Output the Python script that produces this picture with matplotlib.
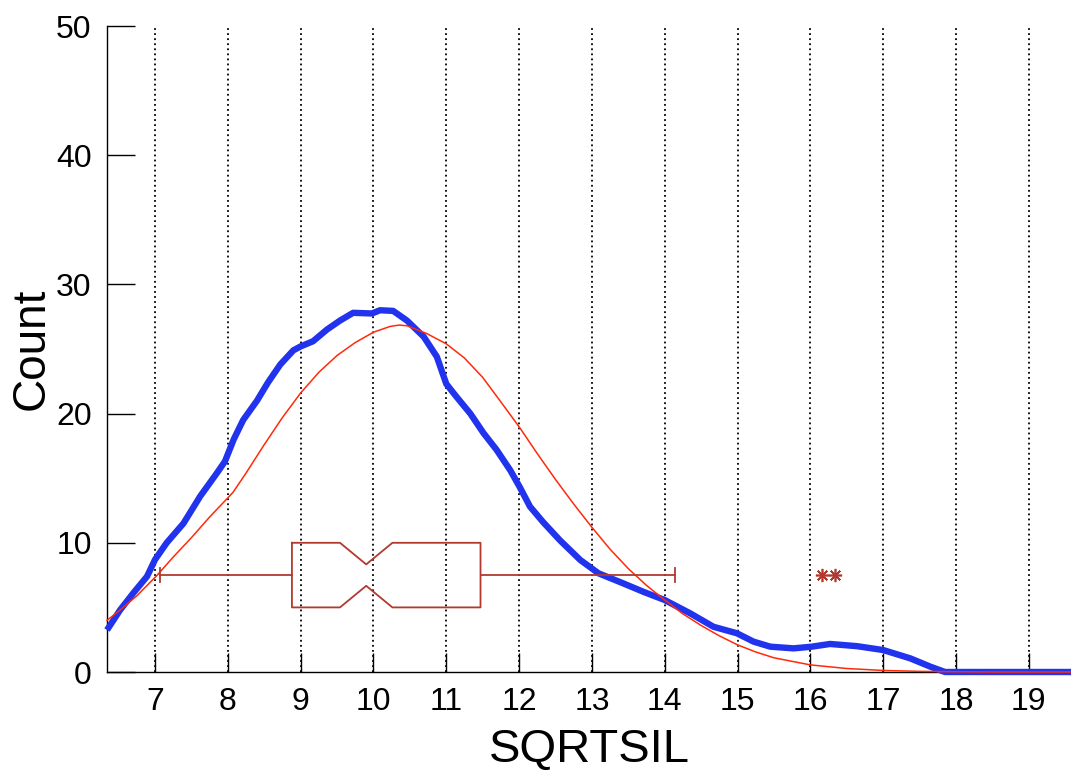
import numpy as np
import matplotlib
matplotlib.use('Agg')
import matplotlib.pyplot as plt

plt.rcParams['font.family'] = ['Liberation Sans', 'DejaVu Sans']

# density estimate (blue)
kde_x = [6.34, 6.52, 6.70, 6.89, 7.0, 7.16, 7.39, 7.62, 7.85, 7.96, 8.08, 8.21, 8.40, 8.55,
         8.72, 8.90, 9.0, 9.17, 9.36, 9.54, 9.72, 9.98, 10.09, 10.27, 10.46, 10.69, 10.87,
         11.0, 11.14, 11.33, 11.51, 11.69, 11.88, 12.01, 12.15, 12.33, 12.56, 12.84, 13.09,
         13.43, 13.71, 14.0, 14.35, 14.67, 14.99, 15.22, 15.45, 15.77, 16.02, 16.27, 16.64,
         17.0, 17.37, 17.65, 17.85, 19.58]
kde_y = [3.25, 4.8, 6.1, 7.4, 8.7, 10.0, 11.5, 13.6, 15.4, 16.3, 18.0, 19.5, 21.0, 22.4,
         23.8, 24.9, 25.2, 25.6, 26.5, 27.2, 27.8, 27.75, 28.0, 27.95, 27.2, 25.95, 24.4,
         22.3, 21.3, 20.0, 18.5, 17.2, 15.6, 14.3, 12.8, 11.6, 10.2, 8.67, 7.64,
         6.86, 6.2, 5.57, 4.54, 3.5, 3.0, 2.35, 1.96, 1.83, 1.96, 2.17, 2.0,
         1.7, 1.06, 0.41, 0.0, 0.0]

# normal fit (red)
fit_x = [6.34, 6.5, 6.75, 7.03, 7.25, 7.5, 7.75, 8.07, 8.25, 8.5, 8.75, 9.0, 9.25, 9.5,
         9.75, 10.0, 10.23, 10.35, 10.46, 10.73, 11.0, 11.25, 11.5, 11.75, 12.01, 12.25,
         12.5, 12.75, 13.0, 13.25, 13.5, 13.75, 14.0, 14.25, 14.5, 14.75, 15.0, 15.25,
         15.5, 16.0, 16.5, 17.0, 17.5, 18.0, 18.5, 19.58]
fit_y = [4.0, 4.7, 5.9, 7.5, 8.9, 10.4, 12.0, 13.9, 15.4, 17.6, 19.7, 21.6, 23.2, 24.5,
         25.5, 26.3, 26.75, 26.85, 26.8, 26.2, 25.4, 24.3, 22.8, 20.9, 18.9, 16.9,
         14.9, 13.0, 11.2, 9.5, 8.0, 6.7, 5.57, 4.5, 3.6, 2.8, 2.1, 1.55,
         1.1, 0.55, 0.27, 0.12, 0.05, 0.02, 0.0, 0.0]

# box plot summary
q1, med, q3 = 8.88, 9.90, 11.47
notch_lo, notch_hi = 9.54, 10.26
whisk_lo, whisk_hi = 7.07, 14.14
outliers = [16.16, 16.34]

xticks = list(range(7, 20))
yticks = [0, 10, 20, 30, 40, 50]

fig = plt.figure(figsize=(10.71, 7.72), dpi=100)
ax = fig.add_axes([107/1071, 1 - 672/772, 964/1071, 646/772])

for xt in xticks:
    ax.plot([xt, xt], [0, 50], color='black', lw=1.3, ls=(0, (1, 1.8)), zorder=1)

ax.plot(kde_x, kde_y, color='#2233ee', lw=4.6, solid_joinstyle='round',
        solid_capstyle='butt', clip_on=False, zorder=3)
ax.plot(fit_x, fit_y, color='#ff2a0a', lw=1.1, clip_on=False, zorder=4)

# notched horizontal box
bc = '#b03a30'
yc, hh, nh, ch = 7.5, 2.5, 0.83, 0.55
bx = [q1, notch_lo, med, notch_hi, q3, q3, notch_hi, med, notch_lo, q1, q1]
by = [yc + hh, yc + hh, yc + nh, yc + hh, yc + hh, yc - hh, yc - hh, yc - nh, yc - hh, yc - hh, yc + hh]
ax.plot(bx, by, color=bc, lw=1.3, zorder=5)
ax.plot([whisk_lo, q1], [yc, yc], color=bc, lw=1.3, zorder=5)
ax.plot([q3, whisk_hi], [yc, yc], color=bc, lw=1.3, zorder=5)
ax.plot([whisk_lo, whisk_lo], [yc - ch, yc + ch], color=bc, lw=1.3, zorder=5)
ax.plot([whisk_hi, whisk_hi], [yc - ch, yc + ch], color=bc, lw=1.3, zorder=5)
ax.plot(outliers, [yc] * len(outliers), ls='none', marker=(8, 2, 0), ms=9.5,
        mec=bc, mew=1.2, zorder=5)

ax.set_xlim(6.34, 19.58)
ax.set_ylim(0, 50)
ax.set_xticks(xticks)
ax.set_yticks(yticks)
ax.spines['top'].set_visible(False)
ax.spines['right'].set_visible(False)
ax.spines['left'].set_linewidth(1.0)
ax.spines['bottom'].set_linewidth(1.0)
ax.tick_params(axis='x', direction='in', length=14, width=1.0, pad=11, labelsize=23)
ax.tick_params(axis='y', direction='in', length=20, width=1.0, pad=11, labelsize=23)
ax.set_xlabel('SQRTSIL', fontsize=34, labelpad=8)
ax.set_ylabel('Count', fontsize=33, labelpad=2)

fig.savefig('out.png', dpi=100)
